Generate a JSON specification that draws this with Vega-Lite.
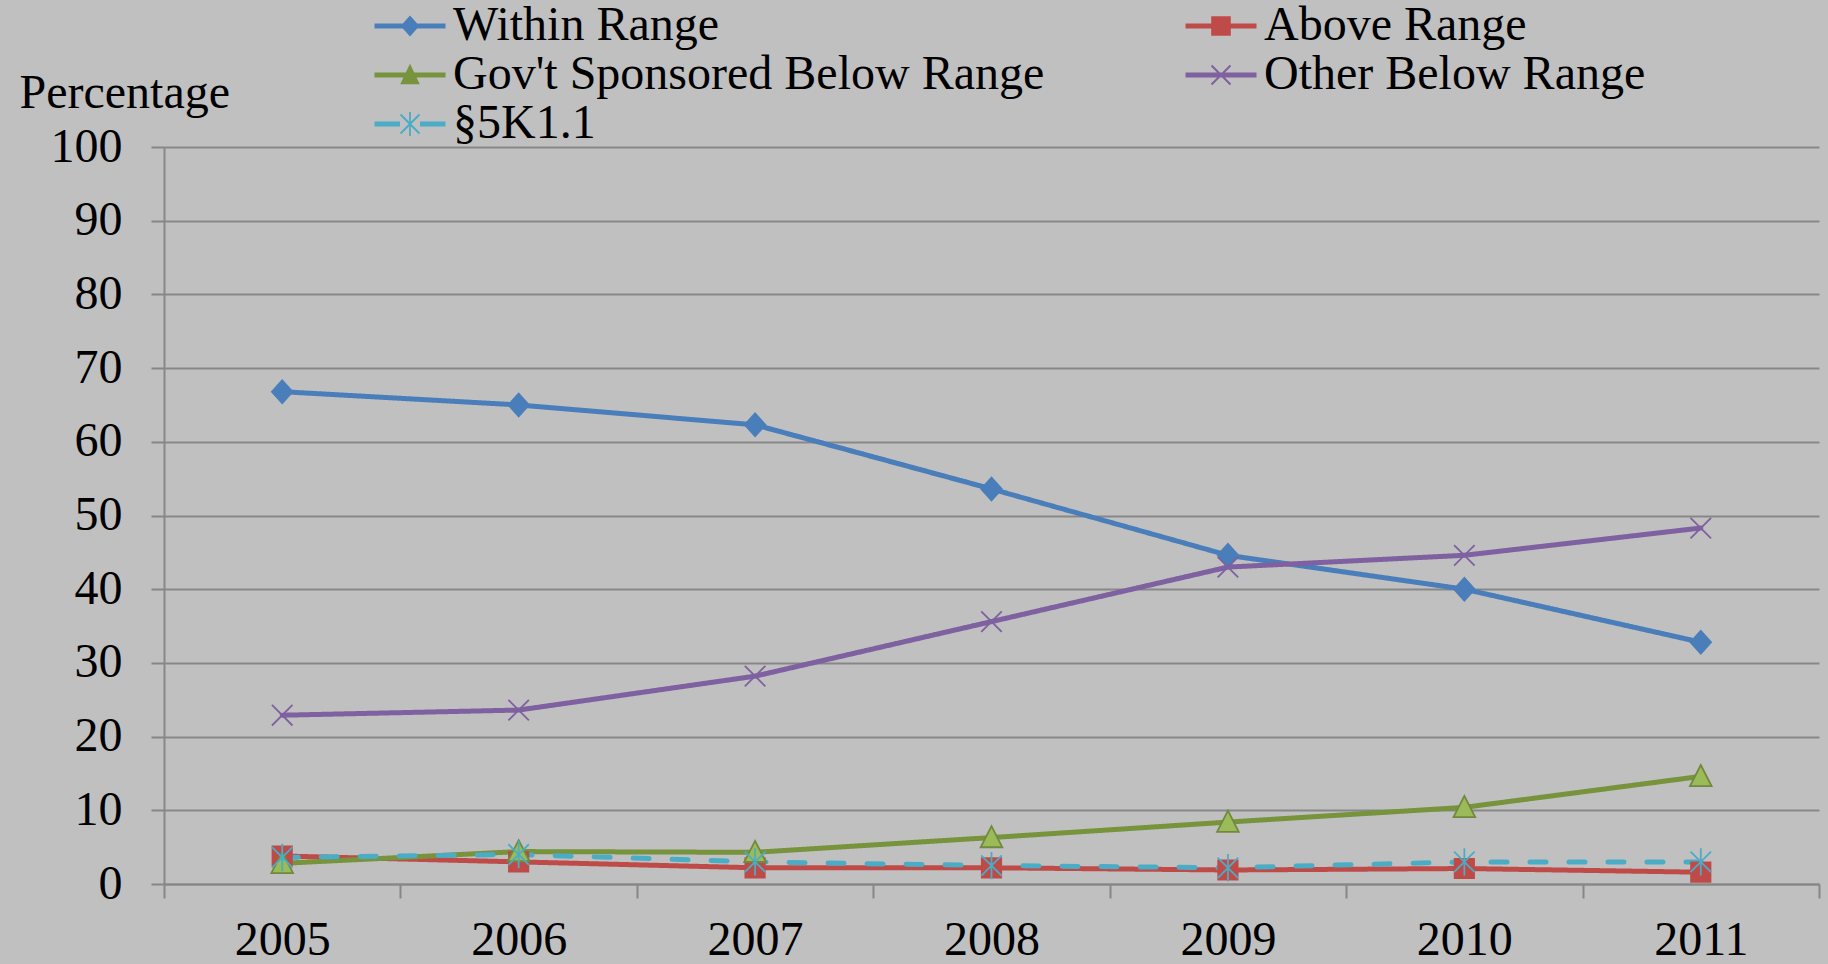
{
  "$schema": "https://vega.github.io/schema/vega-lite/v6.json",
  "width": 1655,
  "height": 737,
  "autosize": {"type": "none"},
  "padding": {"left": 164, "top": 147, "right": 9, "bottom": 80},
  "background": "#C0C0C0",
  "config": {"view": {"stroke": null}, "font": "Liberation Serif"},
  "data": {
    "values": [
      {"year": "2005", "series": "Within Range", "value": 66.8},
      {"year": "2006", "series": "Within Range", "value": 65.0},
      {"year": "2007", "series": "Within Range", "value": 62.3},
      {"year": "2008", "series": "Within Range", "value": 53.6},
      {"year": "2009", "series": "Within Range", "value": 44.6},
      {"year": "2010", "series": "Within Range", "value": 40.0},
      {"year": "2011", "series": "Within Range", "value": 32.8},
      {"year": "2005", "series": "Above Range", "value": 3.8},
      {"year": "2006", "series": "Above Range", "value": 3.0},
      {"year": "2007", "series": "Above Range", "value": 2.2},
      {"year": "2008", "series": "Above Range", "value": 2.2},
      {"year": "2009", "series": "Above Range", "value": 1.9},
      {"year": "2010", "series": "Above Range", "value": 2.1},
      {"year": "2011", "series": "Above Range", "value": 1.6},
      {"year": "2005", "series": "Gov't Sponsored Below Range", "value": 2.8},
      {"year": "2006", "series": "Gov't Sponsored Below Range", "value": 4.4},
      {"year": "2007", "series": "Gov't Sponsored Below Range", "value": 4.3},
      {"year": "2008", "series": "Gov't Sponsored Below Range", "value": 6.3},
      {"year": "2009", "series": "Gov't Sponsored Below Range", "value": 8.4},
      {"year": "2010", "series": "Gov't Sponsored Below Range", "value": 10.4},
      {"year": "2011", "series": "Gov't Sponsored Below Range", "value": 14.6},
      {"year": "2005", "series": "Other Below Range", "value": 22.9},
      {"year": "2006", "series": "Other Below Range", "value": 23.6},
      {"year": "2007", "series": "Other Below Range", "value": 28.2},
      {"year": "2008", "series": "Other Below Range", "value": 35.6},
      {"year": "2009", "series": "Other Below Range", "value": 43.0},
      {"year": "2010", "series": "Other Below Range", "value": 44.6},
      {"year": "2011", "series": "Other Below Range", "value": 48.3},
      {"year": "2005", "series": "§5K1.1", "value": 3.6},
      {"year": "2006", "series": "§5K1.1", "value": 4.0},
      {"year": "2007", "series": "§5K1.1", "value": 3.0},
      {"year": "2008", "series": "§5K1.1", "value": 2.5},
      {"year": "2009", "series": "§5K1.1", "value": 2.2},
      {"year": "2010", "series": "§5K1.1", "value": 3.0},
      {"year": "2011", "series": "§5K1.1", "value": 3.0}
    ]
  },
  "encoding": {
    "x": {
      "field": "year",
      "type": "ordinal",
      "scale": {"type": "band", "paddingInner": 0, "paddingOuter": 0},
      "axis": {
        "title": null,
        "labelAngle": 0,
        "labelFont": "Liberation Serif",
        "labelFontSize": 48,
        "labelColor": "black",
        "labelPadding": 18,
        "tickBand": "extent",
        "ticks": true,
        "tickSize": 14,
        "tickColor": "#878787",
        "tickWidth": 2,
        "domainColor": "#878787",
        "domainWidth": 2,
        "grid": false
      }
    },
    "y": {
      "field": "value",
      "type": "quantitative",
      "scale": {"domain": [0, 100], "nice": false},
      "axis": {
        "title": "Percentage",
        "titleAngle": 0,
        "titleX": -145,
        "titleY": -40,
        "titleAlign": "left",
        "titleBaseline": "alphabetic",
        "titleFont": "Liberation Serif",
        "titleFontSize": 48,
        "titleFontWeight": "normal",
        "titleColor": "black",
        "values": [0, 10, 20, 30, 40, 50, 60, 70, 80, 90, 100],
        "labelFont": "Liberation Serif",
        "labelFontSize": 48,
        "labelColor": "black",
        "labelPadding": 29,
        "tickSize": 13,
        "tickColor": "#878787",
        "tickWidth": 2,
        "grid": true,
        "gridColor": "#878787",
        "gridWidth": 2,
        "domain": true,
        "domainColor": "#878787",
        "domainWidth": 2
      }
    }
  },
  "layer": [
    {
      "mark": {"type": "line", "strokeWidth": 5, "strokeCap": "round", "strokeJoin": "round"},
      "encoding": {
        "color": {
          "field": "series",
          "type": "nominal",
          "scale": {
            "domain": ["Within Range", "Above Range", "Gov't Sponsored Below Range", "Other Below Range", "§5K1.1"],
            "range": ["#4A7EBB", "#BE4B48", "#77933C", "#7F60A0", "#4BACC6"]
          },
          "legend": null
        },
        "strokeDash": {
          "field": "series",
          "type": "nominal",
          "scale": {
            "domain": ["Within Range", "Above Range", "Gov't Sponsored Below Range", "Other Below Range", "§5K1.1"],
            "range": [[1, 0], [1, 0], [1, 0], [1, 0], [16, 23]]
          },
          "legend": null
        }
      }
    },
    {
      "mark": {"type": "point", "filled": true, "size": 520, "strokeWidth": 1.8, "opacity": 1},
      "encoding": {
        "shape": {
          "field": "series",
          "type": "nominal",
          "scale": {
            "domain": ["Within Range", "Above Range", "Gov't Sponsored Below Range", "Other Below Range", "§5K1.1"],
            "range": [
              "M0,-1L0.9,0L0,1L-0.9,0Z",
              "M-0.85,-0.85H0.85V0.85H-0.85Z",
              "M0,-1L0.95,0.85H-0.95Z",
              "M-0.9,-0.9L0.9,0.9M0.9,-0.9L-0.9,0.9",
              "M-0.9,-0.9L0.9,0.9M0.9,-0.9L-0.9,0.9M0,-1.2V1.2"
            ]
          },
          "legend": null
        },
        "fill": {
          "field": "series",
          "type": "nominal",
          "scale": {
            "domain": ["Within Range", "Above Range", "Gov't Sponsored Below Range", "Other Below Range", "§5K1.1"],
            "range": ["#4A7EBB", "#BE4B48", "#9BBB59", "#7F60A0", "#4BACC6"]
          },
          "legend": null
        },
        "stroke": {
          "field": "series",
          "type": "nominal",
          "scale": {
            "domain": ["Within Range", "Above Range", "Gov't Sponsored Below Range", "Other Below Range", "§5K1.1"],
            "range": ["#4A7EBB", "#BE4B48", "#71893F", "#7F60A0", "#4BACC6"]
          },
          "legend": null
        }
      }
    },
    {
      "transform": [{"filter": "false"}],
      "mark": {"type": "point", "filled": true, "opacity": 1},
      "encoding": {
        "shape": {
          "field": "series",
          "type": "nominal",
          "scale": {
            "domain": ["Within Range", "Above Range", "Gov't Sponsored Below Range", "Other Below Range", "§5K1.1"],
            "range": [
              "M-1.775,-0.12H1.775V0.12H-1.775Z M0,-0.52L0.47,0L0,0.52L-0.47,0Z",
              "M-1.775,-0.12H1.775V0.12H-1.775Z M-0.49,-0.49H0.49V0.49H-0.49Z",
              "M-1.775,-0.12H1.775V0.12H-1.775Z M0,-0.56L0.49,0.46H-0.49Z",
              "M-1.775,-0.12H1.775V0.12H-1.775Z M-0.44,-0.51L0.51,0.44L0.44,0.51L-0.51,-0.44Z M0.51,-0.44L-0.44,0.51L-0.51,0.44L0.44,-0.51Z",
              "M-1.775,-0.12H-0.5V0.12H-1.775Z M0.5,-0.12H1.775V0.12H0.5Z M-0.44,-0.51L0.51,0.44L0.44,0.51L-0.51,-0.44Z M0.51,-0.44L-0.44,0.51L-0.51,0.44L0.44,-0.51Z M-0.045,-0.6H0.045V0.6H-0.045Z"
            ]
          },
          "legend": {
            "orient": "none",
            "legendX": 222,
            "legendY": -145,
            "columns": 2,
            "direction": "horizontal",
            "title": null,
            "padding": 0,
            "labelFont": "Liberation Serif",
            "labelFontSize": 48,
            "labelColor": "black",
            "labelLimit": 1000,
            "labelOffset": 19,
            "symbolSize": 1600,
            "symbolStrokeWidth": 0,
            "columnPadding": 140,
            "rowPadding": 1
          }
        },
        "color": {
          "field": "series",
          "type": "nominal",
          "scale": {
            "domain": ["Within Range", "Above Range", "Gov't Sponsored Below Range", "Other Below Range", "§5K1.1"],
            "range": ["#4A7EBB", "#BE4B48", "#77933C", "#7F60A0", "#4BACC6"]
          },
          "legend": {
            "orient": "none",
            "legendX": 222,
            "legendY": -145,
            "columns": 2,
            "direction": "horizontal",
            "title": null,
            "padding": 0,
            "labelFont": "Liberation Serif",
            "labelFontSize": 48,
            "labelColor": "black",
            "labelLimit": 1000,
            "labelOffset": 19,
            "symbolSize": 1600,
            "symbolStrokeWidth": 0,
            "columnPadding": 140,
            "rowPadding": 1
          }
        }
      }
    }
  ],
  "resolve": {"scale": {"shape": "independent", "color": "independent"}}
}
